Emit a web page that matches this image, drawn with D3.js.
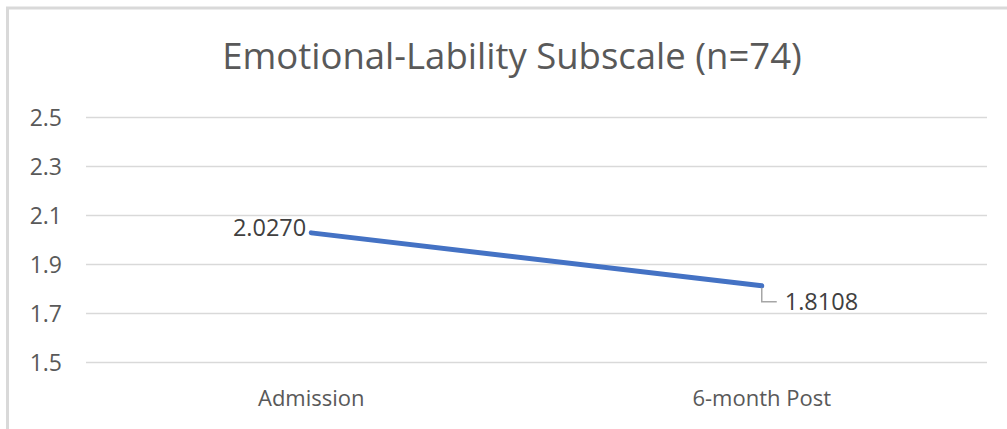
<!DOCTYPE html>
<html>
<head>
<meta charset="utf-8">
<script src="https://cdn.jsdelivr.net/npm/d3@7"></script>
<style>
  html, body { margin: 0; padding: 0; background: #fff; }
  svg { display: block; }
</style>
</head>
<body>
<svg id="chart" width="1007" height="429"></svg>
<script>
// Mean subscale score at each time point
const categories = ["Admission", "6-month Post"];
const values = [2.0270, 1.8108];
const yTicks = [1.5, 1.7, 1.9, 2.1, 2.3, 2.5];
const title = "Emotional-Lability Subscale (n=74)";

const svg = d3.select("#chart");
const W = 1007, H = 429;
const margin = { left: 86, right: 20, top: 117, bottom: 67 };
const font = "'Open Sans', 'Noto Sans', sans-serif";

// chart frame (top and left edges)
svg.append("line").attr("x1", 6).attr("x2", W).attr("y1", 8).attr("y2", 8)
  .attr("stroke", "#d9d9d9").attr("stroke-width", 3);
svg.append("line").attr("x1", 7.5).attr("x2", 7.5).attr("y1", 7).attr("y2", H)
  .attr("stroke", "#d9d9d9").attr("stroke-width", 3);

const x = d3.scaleBand().domain(categories).range([margin.left, W - margin.right]);
const y = d3.scaleLinear().domain([1.5, 2.5]).range([H - margin.bottom, margin.top]);

// title
svg.append("text")
  .attr("x", 512).attr("y", 69)
  .attr("text-anchor", "middle")
  .attr("font-family", font)
  .attr("font-size", 36.5)
  .attr("fill", "#595959")
  .text(title);

// horizontal gridlines
svg.append("g")
  .attr("transform", `translate(${margin.left},0)`)
  .call(d3.axisLeft(y).tickValues(yTicks).tickSize(-(W - margin.right - margin.left)).tickFormat(""))
  .call(g => g.select(".domain").remove())
  .call(g => g.selectAll("line").attr("stroke", "#d9d9d9").attr("stroke-width", 1.5));

// y tick labels
svg.append("g")
  .attr("transform", `translate(62,0)`)
  .call(d3.axisLeft(y).tickValues(yTicks).tickSize(0).tickPadding(0).tickFormat(d3.format(".1f")))
  .call(g => g.select(".domain").remove())
  .call(g => g.selectAll("text")
    .attr("font-family", font).attr("font-size", 23).attr("fill", "#595959")
    .attr("dy", "0.38em"));

// x category labels
svg.append("g")
  .attr("transform", `translate(0,${H - margin.bottom})`)
  .call(d3.axisBottom(x).tickSize(0).tickPadding(0))
  .call(g => g.select(".domain").remove())
  .call(g => g.selectAll("text")
    .attr("font-family", font).attr("font-size", 22).attr("fill", "#595959")
    .attr("y", 44).attr("dy", 0));

const px = d => x(d) + x.bandwidth() / 2;
const pts = categories.map((c, i) => [px(c), y(values[i])]);

// series line
svg.append("path")
  .datum(pts)
  .attr("d", d3.line())
  .attr("fill", "none")
  .attr("stroke", "#4472C4")
  .attr("stroke-width", 5)
  .attr("stroke-linecap", "round");

// data label for first point: left of the point
svg.append("text")
  .attr("x", pts[0][0] - 5).attr("y", pts[0][1] + 3)
  .attr("text-anchor", "end")
  .attr("font-family", font).attr("font-size", 23.5).attr("fill", "#404040")
  .text(values[0].toFixed(4));

// data label for second point with leader line
const p1 = pts[1];
svg.append("path")
  .attr("d", `M${p1[0]},${p1[1] + 2} V${p1[1] + 16} H${p1[0] + 15}`)
  .attr("fill", "none").attr("stroke", "#a6a6a6").attr("stroke-width", 1.5);
svg.append("text")
  .attr("x", p1[0] + 23).attr("y", p1[1] + 24)
  .attr("font-family", font).attr("font-size", 23.5).attr("fill", "#404040")
  .text(values[1].toFixed(4));
</script>
</body>
</html>
